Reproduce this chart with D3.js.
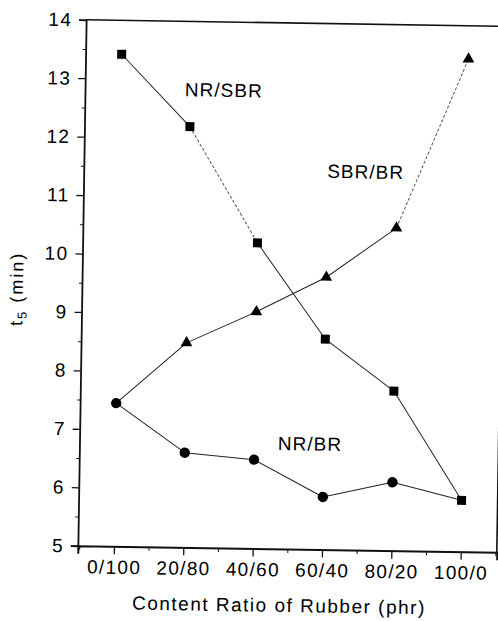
<!DOCTYPE html>
<meta charset="utf-8">
<script src="https://d3js.org/d3.v7.min.js"></script>
<style>
body { margin: 0; background: #fff; }
svg { display: block; font-family: "Liberation Sans", Arial, sans-serif; }
.axis path, .axis line { stroke: #111; }
.axis text { font-size: 19px; fill: #000; letter-spacing: 1.3px; }
.serieslabel { font-size: 19px; fill: #000; letter-spacing: 1px; }
</style>
<body></body>
<script>

// ratio NR/SBR, SBR/BR, NR/BR (phr), first/second rubber
var categories = ['0/100', '20/80', '40/60', '60/40', '80/20', '100/0'];
var yTicks = [5, 6, 7, 8, 9, 10, 11, 12, 13, 14];

// t5 (min)
var nrSbr = [13.42, 12.20, 10.23, 8.60, 7.73, 5.88];
var sbrBr = [7.45, 8.50, 9.05, 9.66, 10.52, 13.43];
var nrBr  = [7.45, 6.62, 6.52, 5.90, 6.17, 5.88];

// series label anchors, in data units (category index, t5)
var labelNames = ['NR/SBR', 'SBR/BR', 'NR/BR'];
var labelX = [0.92, 2.99, 2.34];
var labelY = [12.72, 11.36, 6.69];

var W = 498, H = 621;
var margin = {top: 23, right: -3, bottom: 72, left: 82};

var svg = d3.select('body').append('svg')
  .attr('width', W)
  .attr('height', H);

// the scanned figure is slightly tilted
var g = svg.append('g')
  .attr('transform', 'rotate(0.9, 289, 284)');

var x = d3.scaleLinear()
  .domain([-0.52, 5.52])
  .range([margin.left, W - margin.right]);

var y = d3.scaleLinear()
  .domain([5, 14])
  .range([H - margin.bottom, margin.top]);

// frame
g.append('line')
  .attr('x1', x.range()[0]).attr('x2', x.range()[1])
  .attr('y1', y(14)).attr('y2', y(14))
  .attr('stroke', '#111').attr('stroke-width', 1.6);
g.append('line')
  .attr('x1', x.range()[1]).attr('x2', x.range()[1])
  .attr('y1', y(14)).attr('y2', y(5))
  .attr('stroke', '#111').attr('stroke-width', 1.6);

// y axis
g.append('g')
  .attr('class', 'axis')
  .attr('transform', 'translate(' + margin.left + ',0)')
  .call(d3.axisLeft(y).tickValues(yTicks).tickSize(7).tickPadding(7).tickFormat(d3.format('d')))
  .call(function(a) {
    a.select('.domain').attr('stroke-width', 1.8);
    a.selectAll('line').attr('stroke-width', 1.3);
  });

g.append('g')
  .attr('class', 'axis')
  .attr('transform', 'translate(' + margin.left + ',0)')
  .call(d3.axisLeft(y).tickValues(d3.range(5.5, 14, 1)).tickSize(3).tickFormat(''))
  .call(function(a) { a.select('.domain').remove(); });

// x axis
g.append('g')
  .attr('class', 'axis')
  .attr('transform', 'translate(0,' + y(5) + ')')
  .call(d3.axisBottom(x).tickValues(d3.range(categories.length)).tickSize(8).tickPadding(6)
    .tickFormat(function(i) { return categories[i]; }))
  .call(function(a) {
    a.select('.domain').attr('stroke-width', 2);
    a.selectAll('line').attr('stroke-width', 1.3);
  });

g.append('g')
  .attr('class', 'axis')
  .attr('transform', 'translate(0,' + y(5) + ')')
  .call(d3.axisBottom(x).tickValues(d3.range(-0.5, 5.6, 1)).tickSize(4).tickFormat(''))
  .call(function(a) { a.select('.domain').remove(); });

// axis titles
g.append('text')
  .attr('x', 284)
  .attr('y', 612)
  .attr('text-anchor', 'middle')
  .style('font-size', '19px')
  .style('letter-spacing', '1.5px')
  .attr('fill', '#000')
  .text('Content Ratio of Rubber (phr)');

var yl = g.append('text')
  .attr('transform', 'translate(23,293) rotate(-90)')
  .attr('text-anchor', 'middle')
  .style('font-size', '18px')
  .style('letter-spacing', '2px')
  .attr('fill', '#000');
yl.append('tspan').text('t');
yl.append('tspan').attr('dy', 4).style('font-size', '13px').text('5');
yl.append('tspan').attr('dy', -4).text(' (min)');

// lines, drawn segment by segment (a few segments are faint/broken in the scan)
var series = [
  {name: 'NR/SBR', values: nrSbr, symbol: d3.symbolSquare, size: 81, faint: [1], skip: []},
  {name: 'SBR/BR', values: sbrBr, symbol: d3.symbolTriangle, size: 60, faint: [4], skip: [0]},
  {name: 'NR/BR', values: nrBr, symbol: d3.symbolCircle, size: 85, faint: [], skip: [5]}
];

series.forEach(function(s) {
  var segs = d3.range(s.values.length - 1);
  g.selectAll(null)
    .data(segs)
    .enter().append('line')
    .attr('x1', function(i) { return x(i); })
    .attr('y1', function(i) { return y(s.values[i]); })
    .attr('x2', function(i) { return x(i + 1); })
    .attr('y2', function(i) { return y(s.values[i + 1]); })
    .attr('stroke', function(i) { return s.faint.indexOf(i) >= 0 ? '#555' : '#222'; })
    .attr('stroke-width', 1)
    .attr('stroke-dasharray', function(i) { return s.faint.indexOf(i) >= 0 ? '3,2' : null; });
});

// markers: triangles, circles, then squares on top
[series[1], series[2], series[0]].forEach(function(s) {
  g.selectAll(null)
    .data(s.values.map(function(v, i) { return {i: i, v: v}; })
      .filter(function(d) { return s.skip.indexOf(d.i) < 0; }))
    .enter().append('path')
    .attr('d', d3.symbol().type(s.symbol).size(s.size))
    .attr('transform', function(d) { return 'translate(' + x(d.i) + ',' + y(d.v) + ')'; })
    .attr('fill', '#000');
});

// series labels
g.selectAll('.serieslabel')
  .data(labelNames)
  .enter().append('text')
  .attr('class', 'serieslabel')
  .attr('x', function(d, i) { return x(labelX[i]); })
  .attr('y', function(d, i) { return y(labelY[i]); })
  .text(function(d) { return d; });

</script>
